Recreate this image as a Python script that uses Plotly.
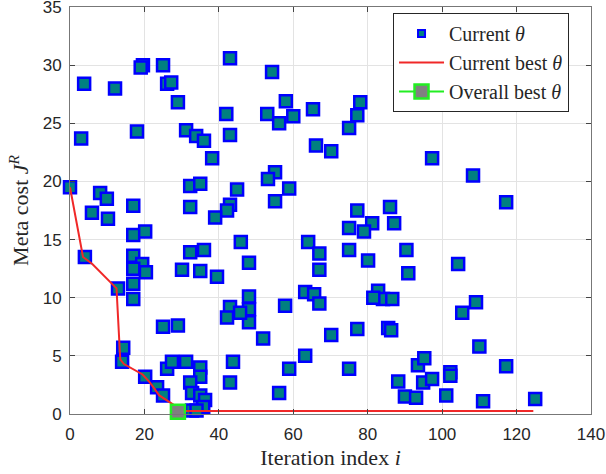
import plotly.graph_objects as go

# Scatter of evaluated parameters: (iteration index, meta cost)
iter_x = [43.0, 19.6, 19.0, 25.0, 3.8, 12.1, 26.1, 27.2, 29.0, 42.0, 18.0, 3.0, 31.2, 33.9, 36.0,
          43.0, 38.2, 0.0, 8.1, 9.9, 32.3, 35.0, 44.9, 17.0, 5.9, 32.3, 43.0, 42.2, 10.2, 39.0,
          54.3, 58.0, 53.0, 56.2, 60.0, 65.3, 78.0, 77.2, 75.0, 66.1, 70.2, 55.1, 53.2, 58.9, 55.1,
          77.2, 86.0, 81.2, 75.0, 79.0, 87.1, 95.2, 97.3, 108.3, 117.2,
          17.0, 20.2, 45.9, 4.0, 17.0, 19.4, 20.4, 17.0, 32.3, 36.0, 30.1, 35.0, 39.5, 12.9, 17.0,
          17.0, 43.0, 42.2, 25.0, 29.0, 64.0, 67.0, 67.0, 75.0, 80.1, 90.4, 90.9, 48.1, 63.2, 65.6,
          67.0, 57.8, 48.1, 48.1, 48.1, 45.7, 82.8, 84.1, 86.6, 81.5, 51.9, 70.2, 77.2, 85.5, 86.3,
          104.3, 109.1, 105.4, 110.0,
          14.3, 14.0, 43.8, 20.2, 26.1, 27.4, 31.2, 35.0, 35.0, 32.3, 43.0, 23.4, 25.0, 32.8, 35.0,
          36.3, 35.8, 32.8, 34.0, 63.2, 58.9, 75.0, 56.2, 88.2, 90.0, 93.0, 93.5, 95.2, 94.9, 97.3,
          102.2, 102.2, 117.2, 101.1, 111.0, 125.0]
cost_y = [30.6, 30.0, 29.8, 30.0, 28.4, 28.0, 28.4, 28.5, 26.8, 25.8, 24.3, 23.7, 24.4, 23.9, 23.5,
          24.0, 22.0, 19.5, 19.0, 18.5, 19.6, 19.8, 19.3, 17.9, 17.3, 17.8, 18.0, 17.5, 16.8, 16.9,
          29.4, 26.9, 25.8, 25.0, 25.6, 26.2, 26.8, 25.7, 24.6, 23.1, 22.6, 20.8, 20.2, 19.4, 18.3,
          17.5, 17.8, 16.4, 16.0, 15.7, 16.4, 27.6, 22.0, 20.5, 18.2,
          15.4, 15.7, 14.8, 13.5, 13.6, 12.9, 12.2, 12.5, 13.9, 14.1, 12.4, 12.3, 11.8, 10.8, 11.2,
          9.9, 9.2, 8.3, 7.5, 7.6, 14.8, 13.8, 12.4, 14.1, 13.2, 14.1, 12.1, 13.0, 10.5, 10.3,
          9.5, 9.3, 10.1, 9.0, 7.9, 8.7, 10.6, 9.9, 9.9, 10.0, 6.5, 6.8, 7.3, 7.4, 7.2,
          12.9, 9.6, 8.7, 5.8,
          5.7, 4.5, 4.5, 3.2, 3.9, 4.5, 4.5, 4.0, 3.2, 2.7, 2.7, 2.3, 1.6, 1.8, 1.6,
          1.2, 0.6, 0.3, 0.3, 5.0, 3.9, 3.9, 1.8, 2.8, 1.5, 1.4, 4.2, 4.8, 2.7, 3.0,
          3.6, 3.3, 4.1, 1.6, 1.1, 1.3]

# Current best cost path
best_x = [0.0, 3.5, 6.0, 11.5, 12.5, 13.5, 14.5, 19.5, 21.5, 24.0, 28.8, 31.0, 124.5]
best_y = [19.5, 13.5, 12.9, 11.1, 10.8, 4.7, 4.3, 3.4, 2.7, 1.6, 0.6, 0.25, 0.25]

# Overall best point
overall_x = [29.0]
overall_y = [0.2]

fig = go.Figure()
fig.add_trace(go.Scatter(
    x=iter_x, y=cost_y, mode="markers", name="Current <i>θ</i>", cliponaxis=False,
    showlegend=False, legendrank=1,
    marker=dict(symbol="square", size=12, color="#008080",
                line=dict(color="#0000ff", width=2.5))))
# legend-only entry with the small marker used in the reference legend
fig.add_trace(go.Scatter(
    x=[None], y=[None], mode="markers", name="Current <i>θ</i>", legendrank=1,
    marker=dict(symbol="square", size=7, color="#008080",
                line=dict(color="#0000ff", width=2))))
fig.add_trace(go.Scatter(
    x=best_x, y=best_y, mode="lines", name="Current best <i>θ</i>", legendrank=2,
    line=dict(color="#f02828", width=2)))
fig.add_trace(go.Scatter(
    x=overall_x, y=overall_y, mode="lines+markers", name="Overall best <i>θ</i>", cliponaxis=False,
    legendrank=3,
    line=dict(color="#22ee22", width=2),
    marker=dict(symbol="square", size=14, color="#808080",
                line=dict(color="#22ee22", width=2.5))))

axis_common = dict(showline=True, linecolor="#777777", linewidth=1, mirror="allticks",
                   ticks="inside", ticklen=5, tickcolor="#444444",
                   showgrid=True, gridcolor="#e3e3e3", gridwidth=1, zeroline=False,
                   ticklabeloverflow="allow", automargin=False,
                   tickfont=dict(family="Liberation Sans, Arial, sans-serif", size=17, color="#262626"))

title_font = dict(family="Liberation Serif, Times New Roman, serif", size=22, color="#262626")

fig.update_layout(
    width=606, height=474,
    margin=dict(l=70, r=15, t=7, b=60),
    paper_bgcolor="white", plot_bgcolor="white",
    xaxis=dict(range=[0, 140], tickvals=[0, 20, 40, 60, 80, 100, 120, 140],
               ticklabelstandoff=5,
               title=dict(text="Iteration index <i>i</i>", standoff=6, font=title_font),
               **axis_common),
    yaxis=dict(range=[0, 35], tickvals=[0, 5, 10, 15, 20, 25, 30, 35],
               ticklabelstandoff=4,
               title=dict(text="Meta cost <i>J</i><sup><i>R</i></sup>", standoff=7, font=title_font),
               **axis_common),
    legend=dict(x=0.62, y=0.985, xanchor="left", yanchor="top",
                bgcolor="white", bordercolor="#262626", borderwidth=1,
                font=dict(family="Liberation Serif, Times New Roman, serif", size=20, color="#262626"),
                tracegroupgap=0, itemwidth=45),
    showlegend=True,
)

fig.write_html("out.html")
